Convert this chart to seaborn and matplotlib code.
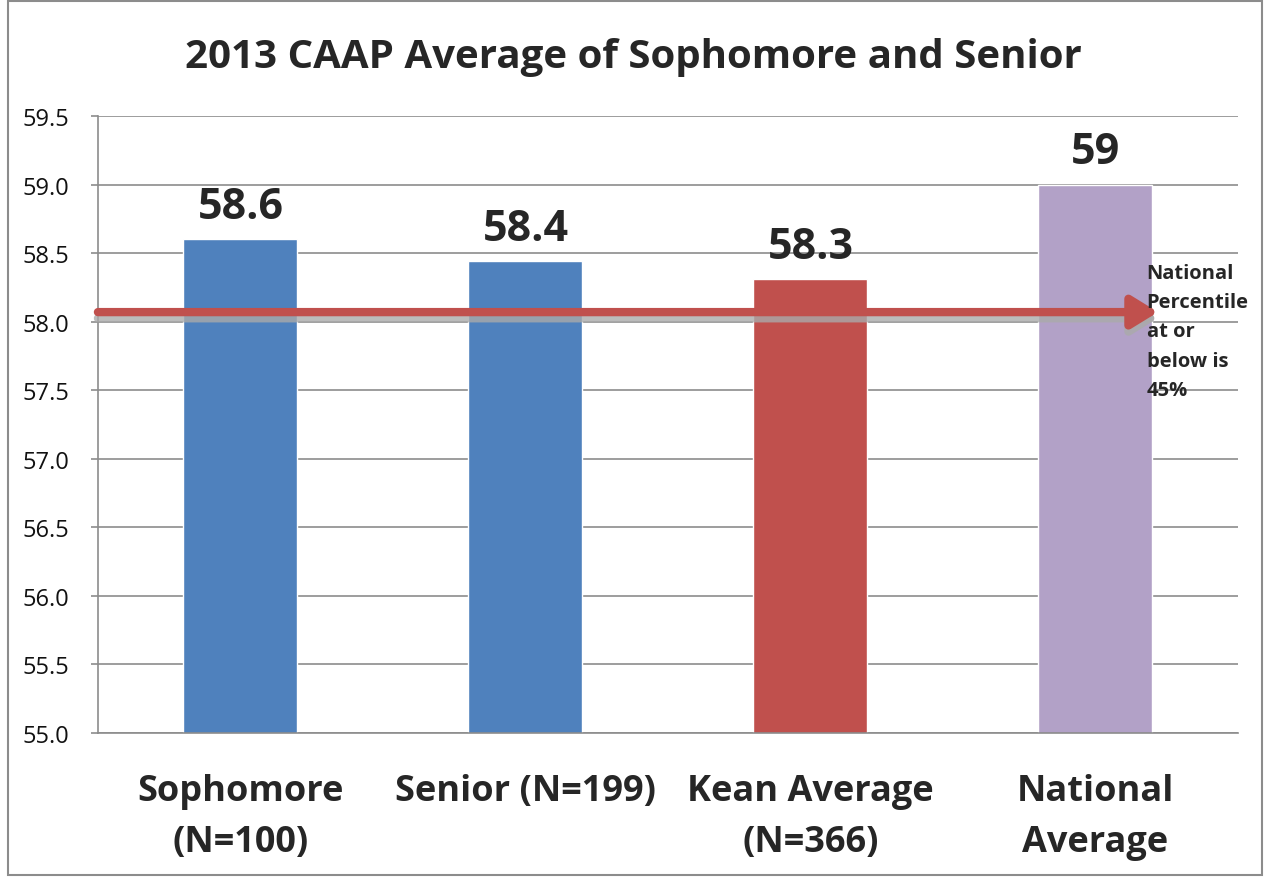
import matplotlib
matplotlib.use("Agg")
import matplotlib.pyplot as plt
import seaborn as sns
import pandas as pd
from matplotlib.patches import Rectangle

categories = ["Sophomore\n(N=100)", "Senior (N=199)", "Kean Average\n(N=366)", "National\nAverage"]
values = [58.6, 58.44, 58.31, 59.0]
value_labels = ["58.6", "58.4", "58.3", "59"]
colors = ["#4F81BD", "#4F81BD", "#C0504D", "#B2A1C7"]
yticks = [55.0, 55.5, 56.0, 56.5, 57.0, 57.5, 58.0, 58.5, 59.0, 59.5]
percentile_line = 58.07
note = "National\nPercentile\nat or\nbelow is\n45%"
title = "2013 CAAP Average of Sophomore and Senior"

sns.set_theme(style="white")
plt.rcParams['font.family'] = ['Open Sans', 'DejaVu Sans']

df = pd.DataFrame({"cat": categories, "val": values})

fig = plt.figure(figsize=(12.67, 8.78), dpi=100)
ax = fig.add_axes([0.0773, 0.164, 0.8997, 0.7027])

sns.barplot(data=df, x="cat", y="val", hue="cat", palette=colors, legend=False,
            width=0.4, ax=ax, saturation=1)

ax.set_ylim(55.0, 59.5)
ax.set_xlim(-0.5, 3.5)
ax.set_yticks(yticks)
ax.set_yticklabels([f"{t:.1f}" for t in yticks], fontsize=17, color="#111111")
ax.yaxis.grid(True, color="#8C8C8C", linewidth=1.2)
ax.set_axisbelow(True)
ax.tick_params(axis="y", length=5, color="#8C8C8C", width=1.2, pad=15.5, left=True)
ax.tick_params(axis="x", length=0, pad=29)
ax.set_xticks(range(len(categories)))
ax.set_xticklabels(categories, fontsize=26, fontweight="bold", linespacing=1.54, va="top")
ax.set_xlabel("")
ax.set_ylabel("")
for s in ["top", "right"]:
    ax.spines[s].set_visible(False)
for s in ["left", "bottom"]:
    ax.spines[s].set_color("#8C8C8C")
    ax.spines[s].set_linewidth(1.2)

for i, (v, lab) in enumerate(zip(values, value_labels)):
    ax.annotate(lab, (i, v), xytext=(0, 8), textcoords="offset points",
                ha="center", va="bottom", fontsize=31, fontweight="bold")

tip = 3.22
# shadow of arrow
ax.annotate("", xy=(tip, percentile_line - 0.045), xytext=(-0.5, percentile_line - 0.045),
            arrowprops=dict(arrowstyle="-|>,head_length=1.3,head_width=0.8", color="#AAAAAA",
                            lw=6, shrinkA=0, shrinkB=0, alpha=0.8), zorder=4)
ax.annotate("", xy=(tip, percentile_line), xytext=(-0.5, percentile_line),
            arrowprops=dict(arrowstyle="-|>,head_length=1.3,head_width=0.8", color="#C0504D",
                            lw=6, shrinkA=0, shrinkB=0), zorder=5)

ax.text(3.18, 58.43, note, fontsize=14.5, fontweight="bold", va="top", ha="left",
        linespacing=1.62, zorder=6)

fig.text(0.5, 0.935, title, fontsize=29, fontweight="bold", ha="center", va="center")

fig.patches.append(Rectangle((0.006, 0.002), 0.99, 0.996, transform=fig.transFigure,
                             fill=False, edgecolor="#8C8C8C", linewidth=1.5))

fig.savefig("out.png", dpi=100)
